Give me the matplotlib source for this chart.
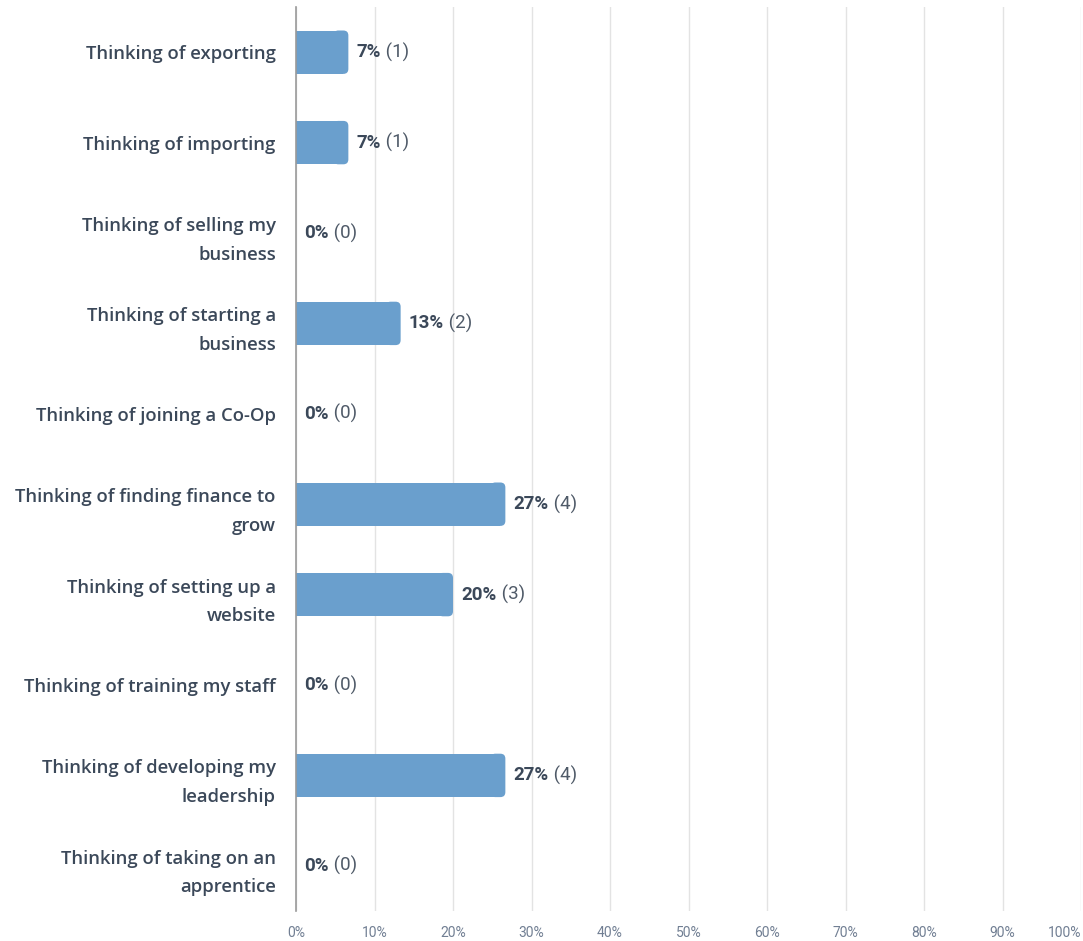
import numpy as np
import matplotlib.pyplot as plt
from matplotlib.patches import FancyBboxPatch
from matplotlib.transforms import offset_copy

# ==============================
# DATA
# ==============================

categories = [
    "Thinking of exporting",
    "Thinking of importing",
    "Thinking of selling my\nbusiness",
    "Thinking of starting a\nbusiness",
    "Thinking of joining a Co-Op",
    "Thinking of finding finance to\ngrow",
    "Thinking of setting up a\nwebsite",
    "Thinking of training my staff",
    "Thinking of developing my\nleadership",
    "Thinking of taking on an\napprentice",
]
percents = [6.67, 6.67, 0, 13.33, 0, 26.67, 20, 0, 26.67, 0]
counts = [1, 1, 0, 2, 0, 4, 3, 0, 4, 0]
tick_vals = [0, 10, 20, 30, 40, 50, 60, 70, 80, 90, 100]

BAR_COLOR = "#6a9fcd"
LABEL_COLOR = "#3b4859"
COUNT_COLOR = "#4f5a68"
TICK_COLOR = "#717f93"
GRID_COLOR = "#e3e3e3"

# ==============================
# PLOT
# ==============================

W, H = 1083, 941
fig = plt.figure(figsize=(W / 100, H / 100), dpi=100)
ax_left, ax_right, ax_top, ax_bot = 296, 1081, 7, 911
ax = fig.add_axes([ax_left / W, 1 - ax_bot / H, (ax_right - ax_left) / W, (ax_bot - ax_top) / H])

ax.set_xlim(0, 100)
ax.set_ylim(len(categories) - 0.5, -0.5)

y = np.arange(len(categories))
bar_h = 0.48

# rounded right end (about 5 px radius)
px_per_x = (ax_right - ax_left) / 100
px_per_y = (ax_bot - ax_top) / len(categories)
r = 5 / px_per_x
asp = px_per_x / px_per_y
for yi, p in zip(y, percents):
    if p <= 0:
        continue
    ax.barh(yi, p - r, height=bar_h, color=BAR_COLOR, linewidth=0, zorder=3)
    ax.add_patch(FancyBboxPatch((max(p - 3 * r, 0), yi - bar_h / 2), min(3 * r, p), bar_h,
                                boxstyle=f"round,pad=0,rounding_size={r}",
                                mutation_aspect=asp, facecolor=BAR_COLOR,
                                linewidth=0, zorder=3))

ax.set_yticks(y)
ax.set_yticklabels(categories, fontsize=13.3, color=LABEL_COLOR, fontweight="semibold",
                   family=["Open Sans", "DejaVu Sans"], linespacing=1.75)
ax.tick_params(axis="y", length=0, pad=14.5)

ax.set_xticks(tick_vals)
ax.set_xticklabels([f"{v}%" for v in tick_vals], fontsize=10, color=TICK_COLOR,
                   family=["Roboto", "DejaVu Sans"])
ax.tick_params(axis="x", length=0, pad=11)
ax.get_xticklabels()[-1].set_horizontalalignment("right")

ax.grid(axis="x", color=GRID_COLOR, linewidth=1, zorder=0)
for s in ["top", "right", "bottom"]:
    ax.spines[s].set_visible(False)
ax.spines["left"].set_color("#9a9a9a")
ax.spines["left"].set_linewidth(1.2)
ax.spines["left"].set_zorder(4)

# value labels: bold percent + count
fig.canvas.draw()
for yi, p, c in zip(y, percents, counts):
    trans = offset_copy(ax.transData, fig=fig, x=6, y=0, units="points")
    t = ax.text(p, yi, f"{round(p)}%", transform=trans, fontsize=13.5,
                fontweight="bold", color=LABEL_COLOR, va="center", ha="left",
                family=["Roboto", "DejaVu Sans"])
    bb = t.get_window_extent(renderer=fig.canvas.get_renderer())
    ax.annotate(f" ({c})", xy=(bb.x1, (bb.y0 + bb.y1) / 2), xycoords="figure pixels",
                fontsize=13.5, color=COUNT_COLOR, va="center", ha="left",
                family=["Roboto", "DejaVu Sans"])

plt.savefig("out.png", dpi=100)
